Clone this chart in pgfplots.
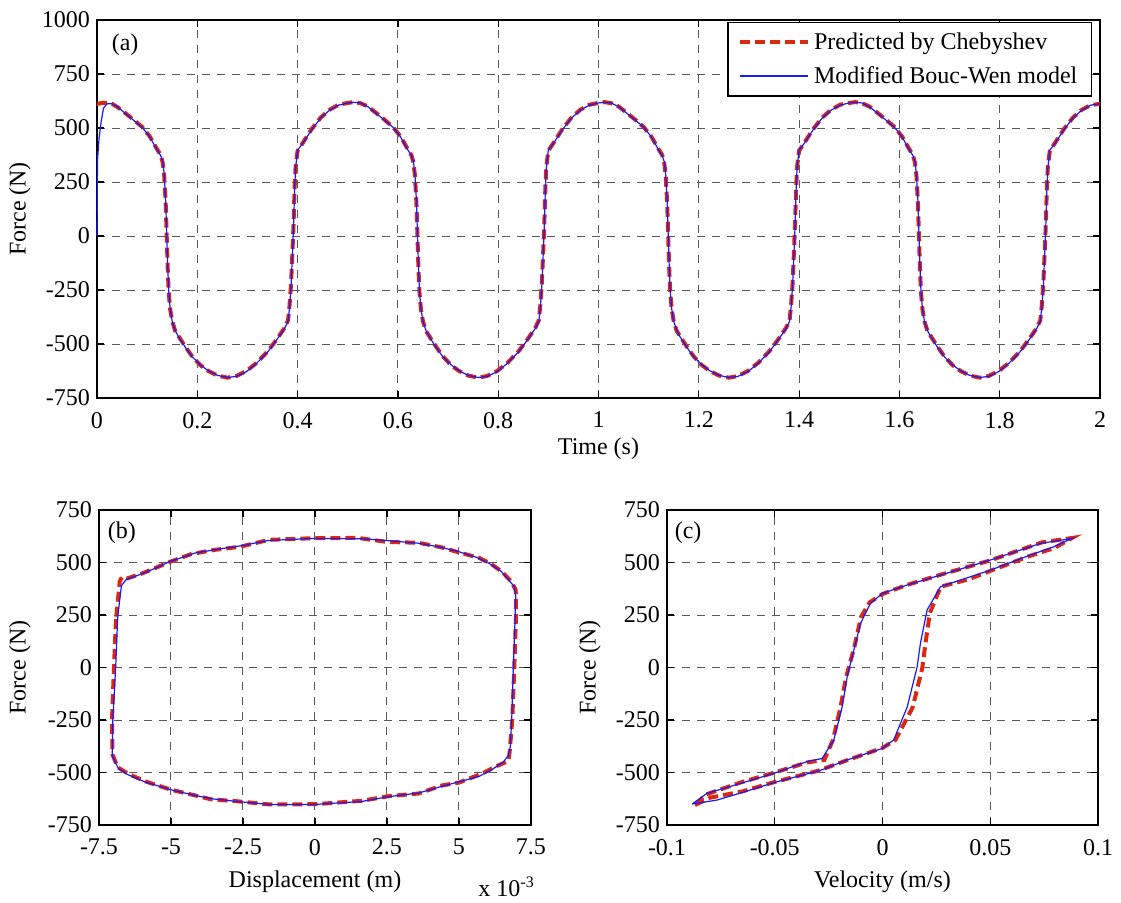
\documentclass[border=0pt]{standalone}
\usepackage{pgfplots}
\pgfplotsset{compat=1.18}
\usepackage{pgfplotstable}
\usepackage{fontspec}
\setmainfont{Liberation Serif}
\definecolor{chebred}{RGB}{220,40,16}
\definecolor{bwblue}{RGB}{25,25,255}

\pgfplotstableread{
t red blue
0.000 612 0
0.001 612 350
0.004 613 450
0.008 615 525
0.013 617 592
0.020 616 612
0.030 612 612
0.040 598 600
0.056 570 568
0.073 538 536
0.090 505 503
0.105 462 460
0.119 405 402
0.127 375 372
0.131 340 345
0.134 280 285
0.137 150 160
0.139 0 10
0.141 -150 -140
0.143 -260 -255
0.146 -340 -338
0.150 -395 -395
0.156 -440 -438
0.163 -465 -468
0.176 -512 -515
0.190 -558 -560
0.206 -598 -596
0.222 -625 -624
0.240 -646 -645
0.260 -656 -655
0.278 -648 -650
0.298 -625 -628
0.318 -588 -590
0.340 -535 -538
0.358 -480 -482
0.374 -425 -428
0.381 -390 -395
0.384 -320 -330
0.387 -220 -230
0.390 -60 -70
0.392 60 50
0.394 220 210
0.396 320 315
0.400 395 398
0.410 430 428
0.428 495 492
0.446 548 546
0.464 585 583
0.482 608 606
0.500 616 616
0.512 620 619
0.525 615 616
0.540 600 599
0.556 571 569
0.573 539 537
0.590 505 504
0.605 462 460
0.619 405 402
0.627 375 372
0.631 340 345
0.634 280 285
0.637 150 160
0.639 0 10
0.641 -150 -140
0.643 -260 -255
0.646 -340 -338
0.650 -395 -395
0.656 -440 -438
0.663 -465 -468
0.676 -512 -515
0.690 -558 -560
0.706 -598 -596
0.722 -625 -624
0.740 -646 -645
0.760 -656 -655
0.778 -648 -650
0.798 -625 -628
0.818 -588 -590
0.840 -535 -538
0.858 -480 -482
0.874 -425 -428
0.881 -390 -395
0.884 -320 -330
0.887 -220 -230
0.890 -60 -70
0.892 60 50
0.894 220 210
0.896 320 315
0.900 395 398
0.910 430 428
0.928 495 492
0.946 548 546
0.964 585 583
0.982 608 606
1.000 616 616
1.012 620 619
1.025 615 616
1.040 600 599
1.056 571 569
1.073 539 537
1.090 505 504
1.105 462 460
1.119 405 402
1.127 375 372
1.131 340 345
1.134 280 285
1.137 150 160
1.139 0 10
1.141 -150 -140
1.143 -260 -255
1.146 -340 -338
1.150 -395 -395
1.156 -440 -438
1.163 -465 -468
1.176 -512 -515
1.190 -558 -560
1.206 -598 -596
1.222 -625 -624
1.240 -646 -645
1.260 -656 -655
1.278 -648 -650
1.298 -625 -628
1.318 -588 -590
1.340 -535 -538
1.358 -480 -482
1.374 -425 -428
1.381 -390 -395
1.384 -320 -330
1.387 -220 -230
1.390 -60 -70
1.392 60 50
1.394 220 210
1.396 320 315
1.400 395 398
1.410 430 428
1.428 495 492
1.446 548 546
1.464 585 583
1.482 608 606
1.500 616 616
1.512 620 619
1.525 615 616
1.540 600 599
1.556 571 569
1.573 539 537
1.590 505 504
1.605 462 460
1.619 405 402
1.627 375 372
1.631 340 345
1.634 280 285
1.637 150 160
1.639 0 10
1.641 -150 -140
1.643 -260 -255
1.646 -340 -338
1.650 -395 -395
1.656 -440 -438
1.663 -465 -468
1.676 -512 -515
1.690 -558 -560
1.706 -598 -596
1.722 -625 -624
1.740 -646 -645
1.760 -656 -655
1.778 -648 -650
1.798 -625 -628
1.818 -588 -590
1.840 -535 -538
1.858 -480 -482
1.874 -425 -428
1.881 -390 -395
1.884 -320 -330
1.887 -220 -230
1.890 -60 -70
1.892 60 50
1.894 220 210
1.896 320 315
1.900 395 398
1.910 430 428
1.928 495 492
1.946 548 546
1.964 585 583
1.982 606 606
2.000 612 612
}\wave

\pgfplotstableread{
x F
-6.85 242
-6.72 390
-6.55 420
-6.13 440
-5.5 475
-5.09 502
-4.17 545
-3.3 565
-2.55 580
-1.63 605
0 615
1.62 613
2.55 604
3.59 592
4.3 575
4.98 552
5.6 525
6.02 498
6.45 460
6.71 420
6.92 385
6.97 340
6.95 242
6.89 4
6.83 -250
6.78 -380
6.71 -420
6.54 -450
6.1 -490
5.67 -520
4.98 -545
4.3 -570
3.59 -598
2.55 -615
1.62 -638
0 -652
-1.6 -652
-2.55 -640
-3.59 -625
-4.3 -605
-4.98 -583
-5.9 -545
-6.5 -510
-6.83 -480
-7.04 -420
-7.02 -250
-6.92 4
-6.85 242
}\dispblue

\pgfplotstableread{
x F
-6.9 242
-6.78 410
-6.7 432
-6.5 425
-6.0 448
-5.0 505
-4.3 540
-3.5 560
-2.6 575
-1.6 608
0 616
1.5 617
2.5 598
3.6 594
4.4 572
5.0 548
5.7 522
6.1 495
6.5 455
6.8 412
6.97 370
6.98 250
6.92 0
6.85 -250
6.76 -400
6.72 -445
6.3 -470
5.8 -505
5.0 -548
4.4 -562
3.6 -600
2.6 -612
1.6 -635
0 -651
-1.6 -652
-2.7 -637
-3.6 -628
-4.2 -608
-5.0 -582
-5.9 -542
-6.5 -505
-6.85 -475
-7.03 -415
-7.05 -250
-6.98 0
-6.92 200
-6.9 242
}\dispred

\pgfplotstableread{
v F
-0.0883 -650
-0.0767 -631
-0.065 -595
-0.0504 -548
-0.0288 -490
-0.0164 -440
0 -385
0.0052 -345
0.0115 -187
0.0161 4
0.0176 115
0.0207 274
0.0269 385
0.0408 432
0.0501 464
0.0687 536
0.0795 575
0.088 615
0.0733 591
0.0501 512
0.0269 440
0.0115 393
0 353
-0.0056 306
-0.0102 210
-0.0133 83
-0.0164 -44
-0.0187 -187
-0.0226 -345
-0.028 -433
-0.035 -448
-0.0504 -504
-0.0659 -552
-0.0814 -599
-0.0883 -650
}\velblue

\pgfplotstableread{
v F
-0.087 -655
-0.080 -620
-0.065 -590
-0.050 -545
-0.030 -492
-0.016 -440
0 -383
0.006 -345
0.014 -190
0.0185 0
0.020 120
0.022 260
0.027 385
0.040 420
0.050 460
0.068 530
0.080 570
0.088 617
0.074 596
0.050 510
0.027 442
0.011 392
0 350
-0.006 310
-0.010 240
-0.013 100
-0.017 -50
-0.0195 -190
-0.023 -345
-0.027 -440
-0.035 -452
-0.050 -500
-0.066 -548
-0.082 -605
-0.087 -655
}\velred

\pgfplotsset{
  common/.style={
    scale only axis,
    axis line style={line width=0.7pt},
    tick align=inside,
    tick pos=both,
    major tick length=3.5pt,
    tick style={line width=0.6pt,black},
    grid=major,
    major grid style={line width=0.5pt, black!65, dash pattern=on 4pt off 3.5pt},
    /pgf/number format/assume math mode=true,
    tick label style={font=\fontsize{12}{14}\selectfont},
    xticklabel style={yshift=-3.5pt},
    label style={font=\fontsize{12}{14}\selectfont},
    clip=false,
  },
  cheb/.style={chebred, line width=2pt, dash pattern=on 5pt off 2.5pt},
  bw/.style={bwblue, line width=0.6pt},
}

\begin{document}
\begin{tikzpicture}
\path[use as bounding box] (0,0) rectangle (560.5pt,451pt);

% (a)
\begin{axis}[common,
  at={(48.5pt,252pt)}, anchor=south west,
  width=501.5pt, height=189pt,
  xmin=0, xmax=2, ymin=-750, ymax=1000,
  xtick={0,0.2,0.4,0.6,0.8,1,1.2,1.4,1.6,1.8,2},
  xticklabels={0,0.2,0.4,0.6,0.8,1,1.2,1.4,1.6,1.8,2},
  ytick={-750,-500,-250,0,250,500,750,1000},
  yticklabels={-750,-500,-250,0,250,500,750,1000},
  xlabel={Time (s)}, ylabel={Force (N)},
  xlabel style={at={(rel axis cs:0.5,-0.135)}, anchor=center},
  ylabel style={at={(rel axis cs:-0.077,0.5)}, anchor=center},
  legend style={at={(rel axis cs:0.992,0.995)}, anchor=north east,
    draw=black, line width=0.6pt, font=\fontsize{12}{14}\selectfont,
    inner xsep=5pt, inner ysep=3pt, row sep=3pt},
  legend cell align=left,
  legend image code/.code={\draw[#1] (0pt,0pt) -- (34pt,0pt);},
]
\addplot[cheb] table[x=t,y=red] {\wave};
\addlegendentry{Predicted by Chebyshev}
\addplot[bw] table[x=t,y=blue] {\wave};
\addlegendentry{Modified Bouc-Wen model}
\node[font=\fontsize{12}{14}\selectfont] at (rel axis cs:0.028,0.934) {(a)};
\end{axis}

% (b)
\begin{axis}[common,
  at={(49.5pt,38.5pt)}, anchor=south west,
  width=216pt, height=157.5pt,
  xmin=-7.5, xmax=7.5, ymin=-750, ymax=750,
  xtick={-7.5,-5,-2.5,0,2.5,5,7.5},
  xticklabels={-7.5,-5,-2.5,0,2.5,5,7.5},
  ytick={-750,-500,-250,0,250,500,750},
  yticklabels={-750,-500,-250,0,250,500,750},
  xlabel={Displacement (m)}, ylabel={Force (N)},
  xlabel style={at={(rel axis cs:0.5,-0.181)}, anchor=center},
  ylabel style={at={(rel axis cs:-0.183,0.5)}, anchor=center},
]
\addplot[cheb] table[x=x,y=F] {\dispred};
\addplot[bw] table[x=x,y=F] {\dispblue};
\node[font=\fontsize{12}{14}\selectfont] at (rel axis cs:0.053,0.927) {(b)};
\node[anchor=west, font=\fontsize{12}{14}\selectfont] at (rel axis cs:0.862,-0.197) {x 10\textsuperscript{-3}};
\end{axis}

% (c)
\begin{axis}[common,
  at={(333.5pt,38.5pt)}, anchor=south west,
  width=215.5pt, height=157.5pt,
  xmin=-0.1, xmax=0.1, ymin=-750, ymax=750,
  xtick={-0.1,-0.05,0,0.05,0.1},
  xticklabels={-0.1,-0.05,0,0.05,0.1},
  ytick={-750,-500,-250,0,250,500,750},
  yticklabels={-750,-500,-250,0,250,500,750},
  xlabel={Velocity (m/s)}, ylabel={Force (N)},
  xlabel style={at={(rel axis cs:0.5,-0.181)}, anchor=center},
  ylabel style={at={(rel axis cs:-0.179,0.5)}, anchor=center},
]
\addplot[cheb] table[x=v,y=F] {\velred};
\addplot[bw] table[x=v,y=F] {\velblue};
\node[font=\fontsize{12}{14}\selectfont] at (rel axis cs:0.049,0.927) {(c)};
\end{axis}
\end{tikzpicture}
\end{document}
